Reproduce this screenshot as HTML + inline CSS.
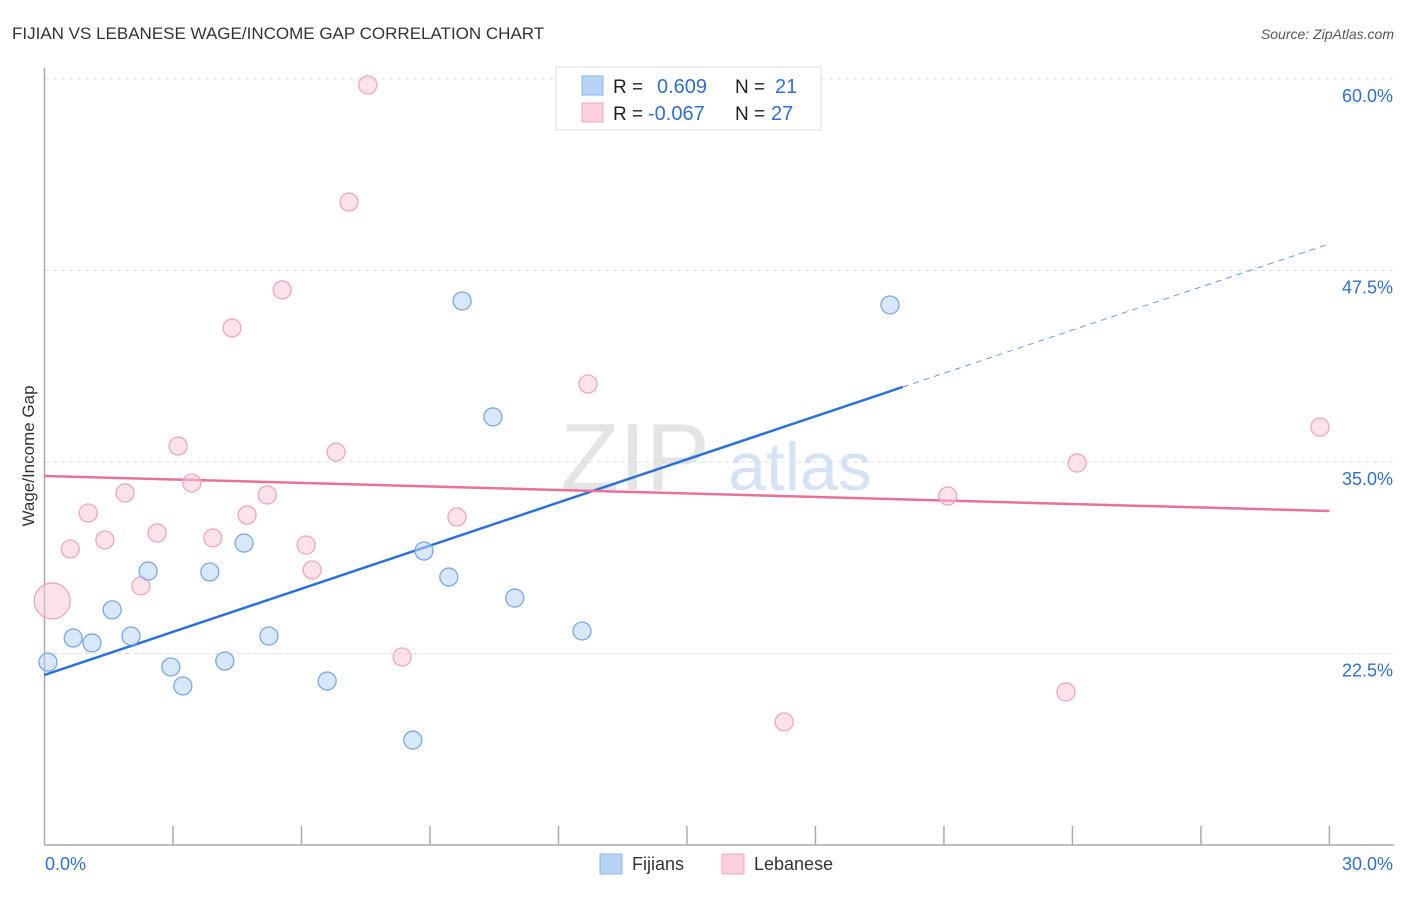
<!DOCTYPE html>
<html><head><meta charset="utf-8"><style>
html,body{margin:0;padding:0;background:#fff;}
body{width:1406px;height:892px;overflow:hidden;font-family:"Liberation Sans",sans-serif;}
svg text{font-family:"Liberation Sans",sans-serif;}
</style></head><body>
<svg id="chart" width="1406" height="892" xmlns="http://www.w3.org/2000/svg">
<text x="12" y="39" font-size="17" fill="#333">FIJIAN VS LEBANESE WAGE/INCOME GAP CORRELATION CHART</text>
<text x="1394" y="39" font-size="14" fill="#555" font-style="italic" text-anchor="end">Source: ZipAtlas.com</text>
<text x="635" y="490" font-size="96" fill="#e4e4e4" font-family="Liberation Serif" text-anchor="middle">ZIP</text>
<text x="800" y="490" font-size="68" fill="#d6e2f5" text-anchor="middle">atlas</text>
<g id="grid"></g>
<g id="axes"></g>
<g id="trends"></g>
<g id="points"></g>
<text transform="translate(34,456) rotate(-90)" font-size="17" fill="#333" text-anchor="middle">Wage/Income Gap</text>
<g>
<rect x="556" y="67" width="265" height="63" fill="#fff" stroke="#ddd"/>
<rect x="582" y="76" width="21" height="19" fill="#b8d3f5" stroke="#8ab4ea"/>
<rect x="582" y="103" width="21" height="19" fill="#fcd0dc" stroke="#f0a5bb"/>
<text x="613" y="93" font-size="19" fill="#222">R =</text>
<text x="657" y="93" font-size="20" fill="#2f6fd0">0.609</text>
<text x="735" y="93" font-size="19" fill="#222">N =</text>
<text x="775" y="93" font-size="20" fill="#2f6fd0">21</text>
<text x="613" y="120" font-size="19" fill="#222">R =</text>
<text x="648" y="120" font-size="20" fill="#2f6fd0">-0.067</text>
<text x="735" y="120" font-size="19" fill="#222">N =</text>
<text x="771" y="120" font-size="20" fill="#2f6fd0">27</text>
</g>
<g>
<rect x="600" y="854" width="22" height="20" fill="#b8d3f5" stroke="#8ab4ea"/>
<text x="632" y="870" font-size="18" fill="#333">Fijians</text>
<rect x="722" y="854" width="22" height="20" fill="#fcd0dc" stroke="#f0a5bb"/>
<text x="754" y="870" font-size="18" fill="#333">Lebanese</text>
</g>
</svg>
<script>
const fijiX=[0.08,0.67,1.11,1.58,2.02,2.42,2.95,3.23,3.86,4.21,4.66,5.24,6.60,8.60,8.86,9.44,9.75,10.47,10.98,12.55,19.74];
const fijiY=[21.94,23.51,23.19,25.35,23.64,27.88,21.62,20.38,27.82,22.01,29.71,23.64,20.70,16.85,29.19,27.49,45.51,37.94,26.12,23.97,45.25];
const lebX=[0.18,0.60,1.02,1.41,1.88,2.25,2.63,3.12,3.44,3.93,4.38,4.73,5.20,5.55,6.11,6.25,6.81,7.11,7.55,8.35,9.63,12.69,17.27,21.09,23.85,24.11,29.78];
const lebY=[25.93,29.32,31.67,29.91,32.98,26.91,30.37,36.04,33.63,30.04,43.75,31.54,32.85,46.23,29.58,27.95,35.65,51.97,59.61,22.27,31.41,40.09,18.03,32.78,19.99,34.93,37.28];
const lebR=[18,9,9,9,9,9,9,9,9,9,9,9,9,9,9,9,9,9,9,9,9,9,9,9,9,9,9];
const yTicks=[22.5,35.0,47.5,60.0];
const fijiTrend=[21.10,0.938];
const lebTrend=[34.09,-0.0763];
const fijiSolidEnd=20.04;
const X=v=>44.5+v*42.83, Y=v=>845-(v-10)*15.32;
const NS="http://www.w3.org/2000/svg";
function mk(tag,attrs,parent){const e=document.createElementNS(NS,tag);for(const k in attrs)e.setAttribute(k,attrs[k]);document.getElementById(parent).appendChild(e);return e;}
yTicks.forEach(t=>{
 const g=mk('line',{x1:45,x2:1394,y1:Y(t),y2:Y(t),stroke:'#ddd','stroke-dasharray':'4,4'},'grid');
 
 
 const l=mk('text',{x:1393,y:Y(t)+23,'font-size':18,fill:'#2f6fd0','text-anchor':'end'},'grid');l.textContent=t.toFixed(1)+'%';
 
 
});
mk('line',{x1:44.5,x2:44.5,y1:68,y2:845,stroke:'#aaa','stroke-width':1.5},'axes');
mk('line',{x1:44.5,x2:1394,y1:845,y2:845,stroke:'#aaa','stroke-width':1.5},'axes');
for(let i=1;i<=10;i++){mk('line',{x1:X(i*3),x2:X(i*3),y1:826,y2:845,stroke:'#aaa','stroke-width':1.5},'axes');}
const xl0=mk('text',{x:45,y:870,'font-size':18,fill:'#2f6fd0'},'axes');xl0.textContent='0.0%';


const xl1=mk('text',{x:1393,y:870,'font-size':18,fill:'#2f6fd0','text-anchor':'end'},'axes');xl1.textContent='30.0%';


const ft=v=>fijiTrend[0]+fijiTrend[1]*v, lt=v=>lebTrend[0]+lebTrend[1]*v;
const t1=mk('line',{x1:X(0),y1:Y(ft(0)),x2:X(fijiSolidEnd),y2:Y(ft(fijiSolidEnd)),stroke:'#2a72d8','stroke-width':2.5},'trends');


const t2=mk('line',{x1:X(fijiSolidEnd),y1:Y(ft(fijiSolidEnd)),x2:X(30),y2:Y(ft(30)),stroke:'#6a9be0','stroke-width':1,'stroke-dasharray':'6,5'},'trends');


const t3=mk('line',{x1:X(0),y1:Y(lt(0)),x2:X(30),y2:Y(lt(30)),stroke:'#e8709a','stroke-width':2.5},'trends');


lebX.forEach((x,i)=>{const c=mk('circle',{cx:X(x),cy:Y(lebY[i]),r:lebR[i],fill:'rgba(250,200,215,0.5)',stroke:'#f0a5bb','stroke-width':1.3},'points');
 
 });
fijiX.forEach((x,i)=>{const c=mk('circle',{cx:X(x),cy:Y(fijiY[i]),r:9,fill:'rgba(184,211,245,0.55)',stroke:'#7aa8e6','stroke-width':1.3},'points');
 
 });
</script>
</body></html>
